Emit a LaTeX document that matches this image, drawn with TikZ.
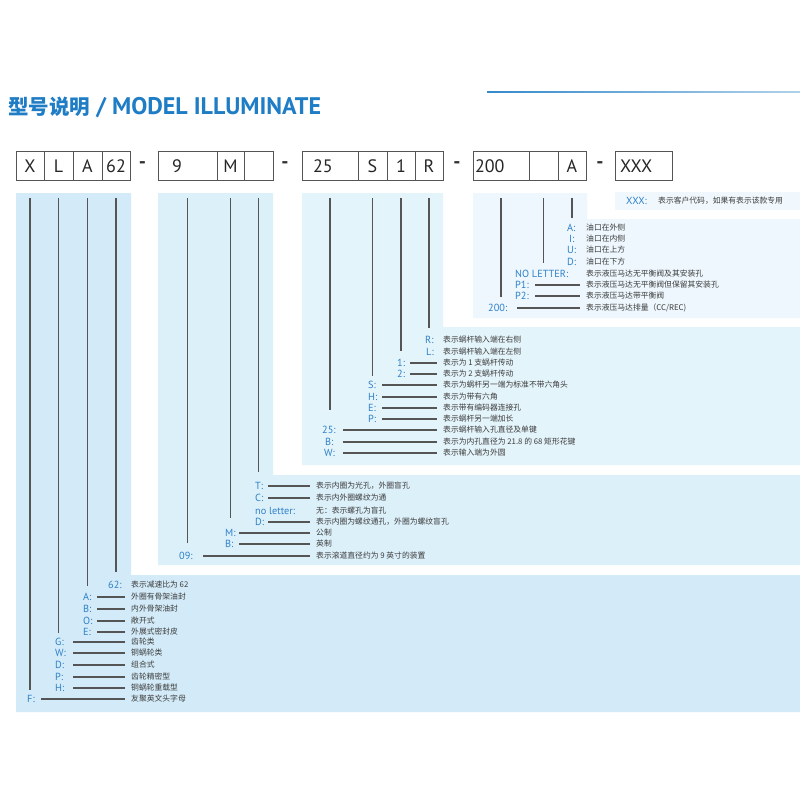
\documentclass[tikz,border=0pt]{standalone}
\usepackage{fontspec}
\setmainfont{PT Sans}
\newfontfamily\cjk{Noto Sans CJK SC}
\definecolor{tblue}{HTML}{1F7DC5}
\definecolor{lblue}{HTML}{2E80C8}
\definecolor{pa}{HTML}{D3EBF8}
\definecolor{pb}{HTML}{DCF0FA}
\definecolor{pc}{HTML}{E4F4FB}
\definecolor{pd}{HTML}{EDF7FD}
\definecolor{pe}{HTML}{F0F8FD}
\definecolor{lgray}{HTML}{555555}
\definecolor{dtext}{HTML}{3C3C3C}
\tikzset{
 cellbox/.style={draw=lgray, line width=0.9pt, minimum height=29pt, inner ysep=0pt,
   font=\fontsize{18}{18}\selectfont, text=black!85, text height=13pt, text depth=0pt},
 lbl/.style={anchor=west, inner sep=0pt, text=lblue, font=\fontsize{10.3}{10}\selectfont, text height=8pt, text depth=1pt},
 dsc/.style={anchor=west, inner xsep=6pt, inner ysep=0pt, text=dtext, font=\cjk\fontsize{7.8}{8}\selectfont, text height=7pt, text depth=1.1pt},
 vl/.style={draw=lgray, line width=1.2pt, shorten <=18pt},
 hl/.style={draw=lgray, line width=1.2pt},
 hyph/.style={inner sep=0pt, font=\bfseries\fontsize{20}{20}\selectfont, text=black!80},
}
\newcommand\mkcell[6]{%
  \pgfmathsetmacro\cx{(#2+#3)/2}\pgfmathsetmacro\tw{#3-#2-2*#4}%
  \node[cellbox, inner xsep=#4pt, text width=\tw pt, align=#5] (#1) at (\cx,165.5) {#6};}
\newcommand\lrow[7]{%
  \node[lbl] (l#1) at (#2,#3) {#4};
  \node[dsc] (d#1) at (#6,#3) {#7};
  \ifx\relax#5\relax\else\coordinate (s#1) at (#5,#3);\draw[hl] (s#1) -- (d#1.west);\fi}
\begin{document}
\begin{tikzpicture}[x=1pt,y=-1pt]
\useasboundingbox (0,0) rectangle (800,800);
\fill[white] (0,0) rectangle (800,800);
% title
\node[anchor=west, inner sep=0pt, text=tblue] (title) at (8,107)
  {{\cjk\bfseries\fontsize{20.5}{21}\selectfont 型号说明}{\bfseries\fontsize{24}{24}\selectfont\ / MODEL ILLUMINATE}};
\shade[left color=tblue!90, right color=tblue!35] (487,91.4) rectangle (800,92.8);
% panels
\fill[pa] (16,193) -- (131,193) -- (131,575) -- (800,575) -- (800,712) -- (16,712) -- cycle;
\fill[pb] (158,193) -- (273,193) -- (273,475) -- (800,475) -- (800,565) -- (158,565) -- cycle;
\fill[pc] (302,193) -- (443,193) -- (443,327) -- (800,327) -- (800,465) -- (302,465) -- cycle;
\fill[pd] (473,193) -- (587,193) -- (587,219) -- (800,219) -- (800,318) -- (473,318) -- cycle;
\fill[pe] (615,192) rectangle (800,210);
% code boxes
\mkcell{c11}{16}{44}{3}{center}{X}
\mkcell{c12}{44}{73}{3}{center}{L}
\mkcell{c13}{73}{102}{3}{center}{A}
\mkcell{c14}{102}{130}{3}{center}{62}
\node[hyph] (h1) at (142.5,165) {-};
\mkcell{c21}{158}{217}{14}{left}{9}
\mkcell{c22}{217}{244}{3}{center}{M}
\mkcell{c23}{244}{273}{3}{center}{}
\node[hyph] (h2) at (285,165) {-};
\mkcell{c31}{302}{358}{11}{left}{25}
\mkcell{c32}{358}{387}{3}{center}{S}
\mkcell{c33}{387}{415}{3}{center}{1}
\mkcell{c34}{415}{443}{3}{center}{R}
\node[hyph] (h3) at (457,165) {-};
\mkcell{c41}{473}{529}{2}{left}{200}
\mkcell{c42}{529}{558}{3}{center}{}
\mkcell{c43}{558}{586}{3}{center}{A}
\node[hyph] (h4) at (600,165) {-};
\mkcell{cx}{615}{672}{5}{left}{XXX}
% vertical connectors
\coordinate (v11) at (c11.south |- 0,690);
\coordinate (v12) at (c12.south |- 0,633);
\coordinate (v13) at (c13.south |- 0,586);
\coordinate (v14) at (c14.south |- 0,572);
\coordinate (v21) at (c21.south |- 0,543);
\coordinate (v22) at (c22.south |- 0,518);
\coordinate (v23) at (c23.south |- 0,472);
\coordinate (v31) at (c31.south |- 0,410);
\coordinate (v32) at (c32.south |- 0,376);
\coordinate (v33) at (c33.south |- 0,351);
\coordinate (v34) at (c34.south |- 0,328);
\coordinate (v41) at (c41.south |- 0,297);
\coordinate (v42) at (c42.south |- 0,263);
\coordinate (v43) at (c43.south |- 0,218);
\foreach \c in {11,12,13,14,21,22,23,31,32,33,34,41,42,43}{\draw[vl] (c\c.south) -- (v\c);}
% panel 1
\lrow{a62}{108}{585}{62:}{}{125}{表示减速比为 62}
\lrow{aA}{83}{597}{A:}{97}{125}{外圈有骨架油封}
\lrow{aB}{83}{609}{B:}{97}{125}{内外骨架油封}
\lrow{aO}{83}{621}{O:}{97}{125}{敞开式}
\lrow{aE}{83}{632}{E:}{97}{125}{外展式密封皮}
\lrow{aG}{55}{642}{G:}{73}{125}{齿轮类}
\lrow{aW}{55}{653}{W:}{73}{125}{铜蜗轮类}
\lrow{aD}{55}{665}{D:}{73}{125}{组合式}
\lrow{aP}{55}{677}{P:}{73}{125}{齿轮精密型}
\lrow{aH}{55}{688}{H:}{73}{125}{铜蜗轮重载型}
\lrow{aF}{27}{699}{F:}{41}{125}{友聚英文头字母}
% panel 2
\lrow{bT}{255}{486}{T:}{268}{310}{表示内圈为光孔，外圈盲孔}
\lrow{bC}{255}{498}{C:}{268}{310}{表示内外圈螺纹为通}
\lrow{bN}{255}{511}{no letter:}{}{310}{无：表示螺孔为盲孔}
\lrow{bD}{255}{522}{D:}{268}{310}{表示内圈为螺纹通孔，外圈为螺纹盲孔}
\lrow{bM}{225}{533}{M:}{239}{310}{公制}
\lrow{bB}{225}{544}{B:}{239}{310}{英制}
\lrow{b09}{179}{556}{09:}{203}{310}{表示滚道直径约为 9 英寸的装置}
% panel 3
\lrow{cR}{425}{340}{R:}{}{437}{表示蜗杆输入端在右侧}
\lrow{cL}{426}{352}{L:}{}{437}{表示蜗杆输入端在左侧}
\lrow{c1}{397}{363}{1:}{410}{437}{表示为 1 支蜗杆传动}
\lrow{c2}{397}{374}{2:}{410}{437}{表示为 2 支蜗杆传动}
\lrow{cS}{368}{385}{S:}{382}{437}{表示为蜗杆另一端为标准不带六角头}
\lrow{cH}{368}{397}{H:}{382}{437}{表示为带有六角}
\lrow{cE}{368}{408}{E:}{382}{437}{表示带有编码器连接孔}
\lrow{cP}{368}{419}{P:}{382}{437}{表示蜗杆另一端加长}
\lrow{c25}{322}{430}{25:}{343}{437}{表示蜗杆输入孔直径及单键}
\lrow{cB}{325}{442}{B:}{343}{437}{表示为内孔直径为 21.8 的 68 矩形花键}
\lrow{cW}{324}{453}{W:}{343}{437}{表示输入端为外圆}
% panel 4
\lrow{dA}{567}{228}{A:}{}{580}{油口在外侧}
\lrow{dI}{569}{239}{I:}{}{580}{油口在内侧}
\lrow{dU}{567}{250}{U:}{}{580}{油口在上方}
\lrow{dD}{567}{262}{D:}{}{580}{油口在下方}
\lrow{dN}{515}{274}{NO LETTER:}{}{580}{表示液压马达无平衡阀及其安装孔}
\lrow{dP1}{515}{285}{P1:}{535}{580}{表示液压马达无平衡阀但保留其安装孔}
\lrow{dP2}{515}{296}{P2:}{535}{580}{表示液压马达带平衡阀}
\lrow{d200}{488}{308}{200:}{517}{580}{表示液压马达排量（CC/REC)}
\lrow{eX}{626}{201}{XXX:}{}{652}{表示客户代码，如果有表示该款专用}
\end{tikzpicture}
\end{document}
